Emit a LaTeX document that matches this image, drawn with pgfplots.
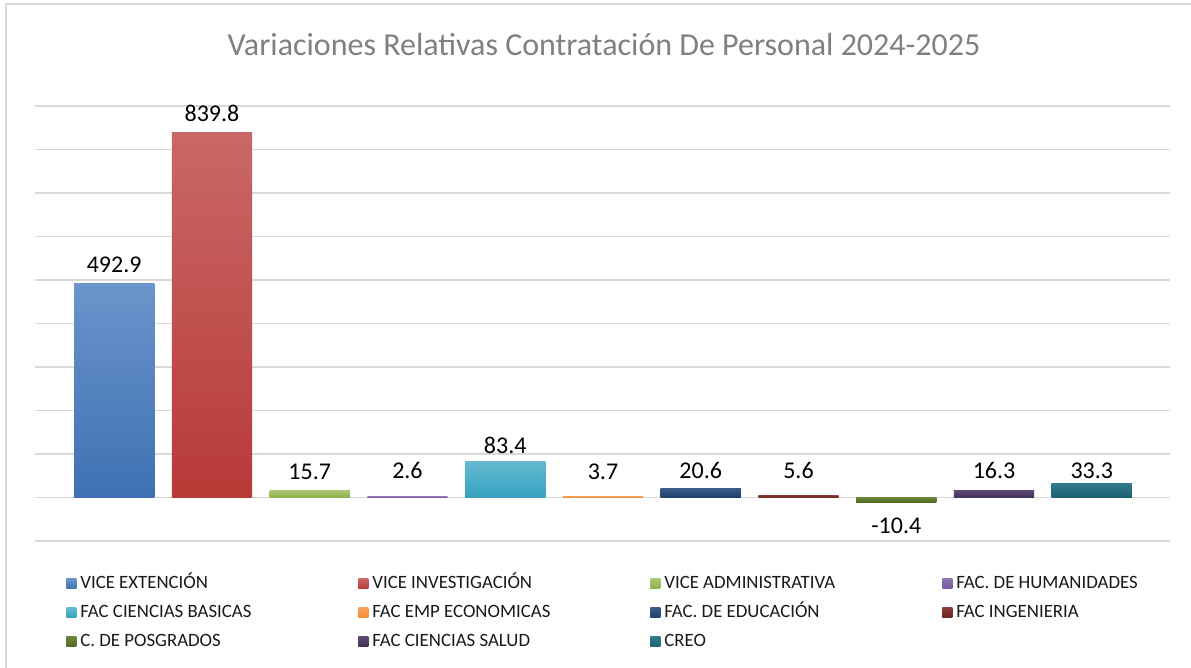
\documentclass[border=0pt]{standalone}
\usepackage{pgfplots}
\pgfplotsset{compat=1.18}
\usepackage{fontspec}
\setmainfont{Carlito}
\definecolor{frame}{HTML}{D9D9D9}
\definecolor{gridgray}{HTML}{D9D9D9}
\definecolor{titlegray}{HTML}{808080}
\definecolor{aT}{HTML}{6B94CB}\definecolor{aB}{HTML}{3D71B3}
\definecolor{bT}{HTML}{C96866}\definecolor{bB}{HTML}{B83A37}
\definecolor{cT}{HTML}{A9C670}\definecolor{cB}{HTML}{8DB04A}
\definecolor{dT}{HTML}{8D72B0}\definecolor{dB}{HTML}{7459A0}
\definecolor{eT}{HTML}{66BAD1}\definecolor{eB}{HTML}{35A2C0}
\definecolor{fT}{HTML}{F9A25B}\definecolor{fB}{HTML}{F68A33}
\definecolor{gT}{HTML}{3A5C88}\definecolor{gB}{HTML}{203F6B}
\definecolor{hT}{HTML}{8A3A38}\definecolor{hB}{HTML}{6E2523}
\definecolor{iT}{HTML}{6B8439}\definecolor{iB}{HTML}{546A26}
\definecolor{jT}{HTML}{5B4872}\definecolor{jB}{HTML}{433257}
\definecolor{kT}{HTML}{347B8E}\definecolor{kB}{HTML}{1D6070}
\begin{document}
\begin{tikzpicture}
\useasboundingbox (0,0) rectangle (595.5pt,334pt);
\draw[color=frame, line width=1pt] (3pt,0pt) -- (3pt,332pt) -- (595.5pt,332pt);
\node[font=\fontsize{16}{19}\selectfont, text=titlegray] at (302pt,311.5pt) {Variaciones Relativas Contratación De Personal 2024-2025};
\begin{axis}[
  at={(17.5pt,63.5pt)}, anchor=south west,
  scale only axis, width=567.5pt, height=217.5pt,
  xmin=-0.81, xmax=10.8, ymin=-100, ymax=900,
  axis line style={draw=none},
  xtick=\empty, ytick={-100,0,...,900}, yticklabels={},
  major tick length=0pt,
  ymajorgrids, grid style={color=gridgray, line width=0.8pt},
  clip=false,
  ybar, bar width=0.82,
  nodes near coords,
  every node near coord/.append style={font=\fontsize{12}{14}\selectfont, inner sep=0pt, text=black},
  /pgf/number format/fixed, /pgf/number format/precision=1,
  /pgf/number format/fixed zerofill, /pgf/number format/assume math mode=true,
  legend columns=4,
  legend cell align=left,
  legend image code/.code={\path[#1, draw=none] (0pt,-2.35pt) rectangle (5pt,2.65pt);},
  legend style={at={(0,0)}, anchor=north west, xshift=15.5pt, yshift=-17.25pt,
    draw=none, fill=none, inner sep=0pt, row sep=6.3pt,
    font=\fontsize{9.4}{11}\selectfont, text=black!90,
    nodes={inner sep=0pt, text height=6.5pt, text depth=1.7pt},
    /tikz/every odd column/.style={column sep=2pt}},
]
\addplot[bar shift=0pt, draw=none, top color=aT, bottom color=aB, every node near coord/.append style={yshift=5pt}] coordinates {(0,492.9)};
\addlegendentry{\makebox[139pt][l]{VICE EXTENCIÓN}}
\addplot[bar shift=0pt, draw=none, top color=bT, bottom color=bB, every node near coord/.append style={yshift=5pt}] coordinates {(1,839.8)};
\addlegendentry{\makebox[139pt][l]{VICE INVESTIGACIÓN}}
\addplot[bar shift=0pt, draw=none, top color=cT, bottom color=cB, every node near coord/.append style={yshift=5.5pt}] coordinates {(2,15.7)};
\addlegendentry{\makebox[139pt][l]{VICE ADMINISTRATIVA}}
\addplot[bar shift=0pt, draw=none, top color=dT, bottom color=dB, every node near coord/.append style={yshift=8.5pt}] coordinates {(3,2.6)};
\addlegendentry{\makebox[100pt][l]{FAC. DE HUMANIDADES}}
\addplot[bar shift=0pt, draw=none, top color=eT, bottom color=eB, every node near coord/.append style={yshift=3.5pt}] coordinates {(4,83.4)};
\addlegendentry{\makebox[139pt][l]{FAC CIENCIAS BASICAS}}
\addplot[bar shift=0pt, draw=none, top color=fT, bottom color=fB, every node near coord/.append style={yshift=8pt}] coordinates {(5,3.7)};
\addlegendentry{\makebox[139pt][l]{FAC EMP ECONOMICAS}}
\addplot[bar shift=0pt, draw=none, top color=gT, bottom color=gB, every node near coord/.append style={yshift=4.5pt}] coordinates {(6,20.6)};
\addlegendentry{\makebox[139pt][l]{FAC. DE EDUCACIÓN}}
\addplot[bar shift=0pt, draw=none, top color=hT, bottom color=hB, every node near coord/.append style={yshift=7.75pt}] coordinates {(7,5.6)};
\addlegendentry{\makebox[100pt][l]{FAC INGENIERIA}}
\addplot[bar shift=0pt, draw=none, top color=iT, bottom color=iB, every node near coord/.append style={yshift=-7.75pt}] coordinates {(8,-10.4)};
\addlegendentry{\makebox[139pt][l]{C. DE POSGRADOS}}
\addplot[bar shift=0pt, draw=none, top color=jT, bottom color=jB, every node near coord/.append style={yshift=5.5pt}] coordinates {(9,16.3)};
\addlegendentry{\makebox[139pt][l]{FAC CIENCIAS SALUD}}
\addplot[bar shift=0pt, draw=none, top color=kT, bottom color=kB, every node near coord/.append style={yshift=2pt}] coordinates {(10,33.3)};
\addlegendentry{\makebox[139pt][l]{CREO}}
\end{axis}
\end{tikzpicture}
\end{document}
